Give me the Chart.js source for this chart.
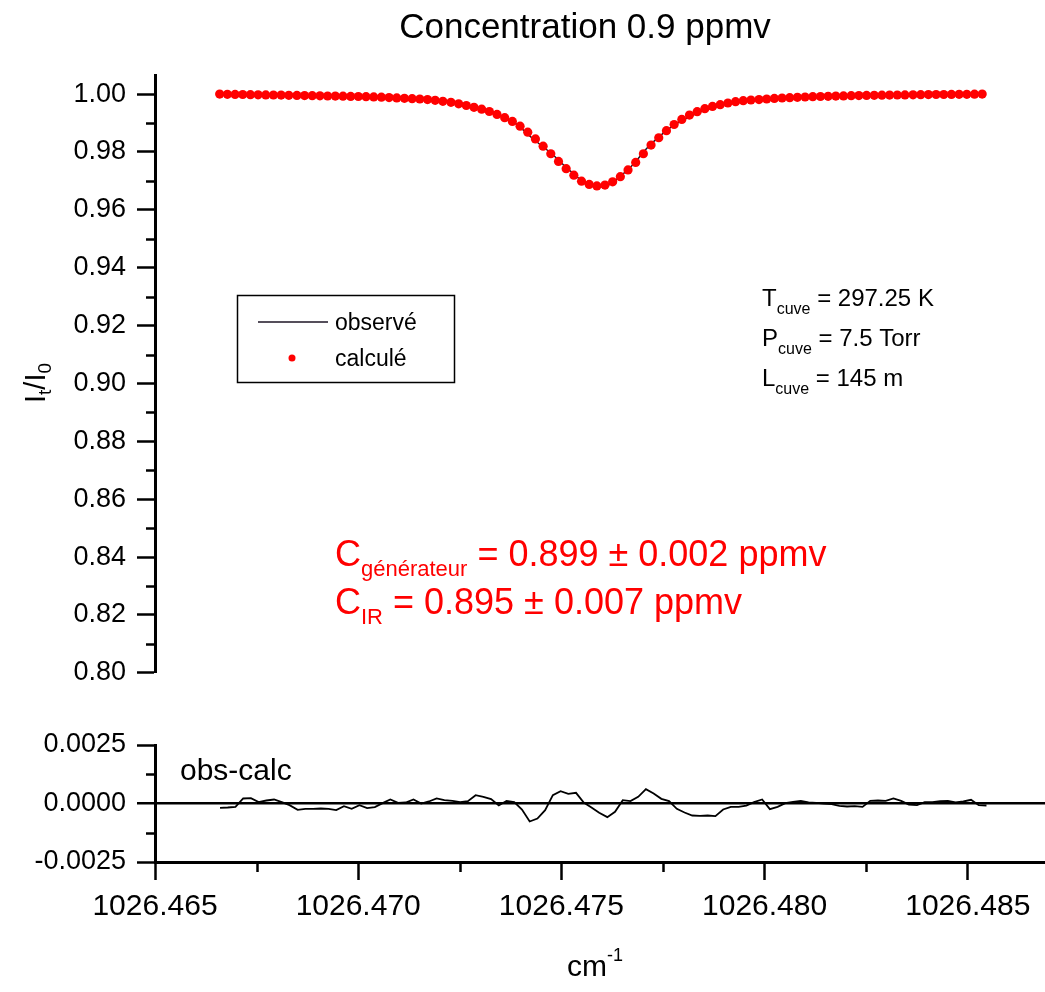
<!DOCTYPE html>
<html>
<head>
<meta charset="utf-8">
<title>Concentration 0.9 ppmv</title>
<script src="https://cdn.jsdelivr.net/npm/chart.js@4/dist/chart.umd.min.js"></script>
<style>
  html, body { margin: 0; padding: 0; background: #fff; }
  #wrap { position: relative; width: 1045px; height: 992px; overflow: hidden; }
  canvas { position: absolute; left: 0; }
  #topChart { top: 0; }
  #resChart { top: 700px; }
</style>
</head>
<body>
<div id="wrap">
  <canvas id="topChart" width="1045" height="700"></canvas>
  <canvas id="resChart" width="1045" height="292"></canvas>
</div>
<script>
// Wavenumber grid of the recorded line (cm-1)
const wavenumber = [
  1026.46660,1026.46679,1026.46698,1026.46717,1026.46736,1026.46755,1026.46774,1026.46793,1026.46812,1026.46831,
  1026.46851,1026.46870,1026.46889,1026.46908,1026.46927,1026.46946,1026.46965,1026.46984,1026.47003,1026.47022,
  1026.47041,1026.47060,1026.47079,1026.47098,1026.47117,1026.47136,1026.47155,1026.47174,1026.47193,1026.47212,
  1026.47232,1026.47251,1026.47270,1026.47289,1026.47308,1026.47327,1026.47346,1026.47365,1026.47384,1026.47403,
  1026.47422,1026.47441,1026.47460,1026.47479,1026.47498,1026.47517,1026.47536,1026.47555,1026.47574,1026.47593,
  1026.47613,1026.47632,1026.47651,1026.47670,1026.47689,1026.47708,1026.47727,1026.47746,1026.47765,1026.47784,
  1026.47803,1026.47822,1026.47841,1026.47860,1026.47879,1026.47898,1026.47917,1026.47936,1026.47955,1026.47974,
  1026.47994,1026.48013,1026.48032,1026.48051,1026.48070,1026.48089,1026.48108,1026.48127,1026.48146,1026.48165,
  1026.48184,1026.48203,1026.48222,1026.48241,1026.48260,1026.48279,1026.48298,1026.48317,1026.48336,1026.48355,
  1026.48375,1026.48394,1026.48413,1026.48432,1026.48451,1026.48470,1026.48489,1026.48508,1026.48527,1026.48546
];

// Calculated transmission It/I0
const calculated = [
  1.00000,0.99993,0.99990,0.99986,0.99979,0.99976,0.99972,0.99969,0.99965,0.99959,
  0.99955,0.99948,0.99945,0.99941,0.99934,0.99931,0.99927,0.99921,0.99917,0.99910,
  0.99903,0.99893,0.99879,0.99869,0.99855,0.99841,0.99831,0.99810,0.99786,0.99751,
  0.99717,0.99665,0.99606,0.99544,0.99478,0.99399,0.99299,0.99185,0.99057,0.98891,
  0.98684,0.98452,0.98200,0.97938,0.97672,0.97423,0.97199,0.96991,0.96877,0.96826,
  0.96857,0.96967,0.97147,0.97378,0.97637,0.97938,0.98238,0.98491,0.98736,0.98950,
  0.99126,0.99275,0.99392,0.99496,0.99575,0.99634,0.99693,0.99737,0.99772,0.99796,
  0.99810,0.99831,0.99851,0.99865,0.99876,0.99889,0.99900,0.99910,0.99917,0.99924,
  0.99931,0.99938,0.99945,0.99948,0.99955,0.99959,0.99962,0.99965,0.99969,0.99972,
  0.99976,0.99979,0.99983,0.99986,0.99986,0.99990,0.99993,0.99993,0.99997,1.00000
];

// Residual obs - calc
const residual = [
  -0.000185,-0.000171,-0.000143, 0.000214, 0.000228, 0.000057, 0.000128, 0.000171, 0.000057,-0.000071,
  -0.000271,-0.000228,-0.000228,-0.000214,-0.000228,-0.000285,-0.000114,-0.000228,-0.000071,-0.000200,
  -0.000157, 0.000014, 0.000171, 0.000029, 0.000043, 0.000171, 0.000000, 0.000086, 0.000214, 0.000143,
   0.000114, 0.000057, 0.000100, 0.000356, 0.000285, 0.000185,-0.000086, 0.000114, 0.000057,-0.000257,
  -0.000770,-0.000641,-0.000285, 0.000356, 0.000527, 0.000413, 0.000456, 0.000043,-0.000171,-0.000399,
  -0.000584,-0.000356, 0.000143, 0.000100, 0.000285, 0.000613, 0.000428, 0.000200, 0.000100,-0.000228,
  -0.000385,-0.000513,-0.000527,-0.000513,-0.000542,-0.000257,-0.000143,-0.000143,-0.000086, 0.000057,
   0.000171,-0.000242,-0.000143, 0.000014, 0.000071, 0.000114, 0.000043, 0.000029, 0.000000,-0.000029,
  -0.000100,-0.000128,-0.000114,-0.000143, 0.000114, 0.000128, 0.000114, 0.000214, 0.000114,-0.000043,
  -0.000071, 0.000057, 0.000057, 0.000100, 0.000114, 0.000043, 0.000086, 0.000157,-0.000071,-0.000086
];

// Observed spectrum = calculated + residual
const observed = calculated.map((c, i) => c + residual[i]);

// Axis ticks
const xTicks = [1026.465, 1026.470, 1026.475, 1026.480, 1026.485];
const xMinorTicks = [1026.4675, 1026.4725, 1026.4775, 1026.4825];
const yTicks = [0.80, 0.82, 0.84, 0.86, 0.88, 0.90, 0.92, 0.94, 0.96, 0.98, 1.00];
const yMinorTicks = [0.81, 0.83, 0.85, 0.87, 0.89, 0.91, 0.93, 0.95, 0.97, 0.99];
const resTicks = [-0.0025, 0.0, 0.0025];
const resMinorTicks = [-0.00125, 0.00125];

const X_MIN = 1026.465, X_MAX = 1026.4869;
const Y_MIN = 0.80, Y_MAX = 1.0066;
const R_MIN = -0.0025, R_MAX = 0.0025;

const FONT = '"Liberation Sans", Arial, Helvetica, sans-serif';
Chart.defaults.font.family = FONT;
Chart.defaults.color = '#000';

const RED = '#ff0000';
const INK = '#000000';

// Draw a run of text pieces (normal / subscript / superscript) left to right
function richText(ctx, x, y, pieces, color, align) {
  ctx.save();
  ctx.fillStyle = color;
  ctx.textBaseline = 'alphabetic';
  ctx.textAlign = 'left';
  let total = 0;
  pieces.forEach(p => { ctx.font = p.size + 'px ' + FONT; total += ctx.measureText(p.t).width; });
  let cx = align === 'center' ? x - total / 2 : x;
  pieces.forEach(p => {
    ctx.font = p.size + 'px ' + FONT;
    ctx.fillText(p.t, cx, y + (p.dy || 0));
    cx += ctx.measureText(p.t).width;
  });
  ctx.restore();
}

function minorTicksY(ctx, scale, values, len) {
  ctx.save();
  ctx.strokeStyle = INK; ctx.lineWidth = 2.5;
  values.forEach(v => {
    const py = Math.round(scale.getPixelForValue(v)) + 0.5;
    ctx.beginPath(); ctx.moveTo(scale.right - len, py); ctx.lineTo(scale.right, py); ctx.stroke();
  });
  ctx.restore();
}

const topDecor = {
  id: 'topDecor',
  afterDraw(chart) {
    const { ctx, scales: { y } } = chart;
    minorTicksY(ctx, y, yMinorTicks, 9);

    // chart title
    richText(ctx, 585, 38, [{ t: 'Concentration 0.9 ppmv', size: 35 }], INK, 'center');

    // y axis title It/I0, rotated
    ctx.save();
    ctx.translate(45, 383);
    ctx.rotate(-Math.PI / 2);
    richText(ctx, 0, 0, [
      { t: 'I', size: 29 }, { t: 't', size: 19, dy: 6 },
      { t: '/I', size: 29 }, { t: '0', size: 19, dy: 6 }
    ], INK, 'center');
    ctx.restore();

    // legend
    const obs = chart.data.datasets[1], calc = chart.data.datasets[0];
    ctx.save();
    ctx.strokeStyle = INK; ctx.lineWidth = 1.5;
    ctx.strokeRect(237.5, 295.5, 217, 87);
    ctx.strokeStyle = obs.borderColor; ctx.lineWidth = obs.borderWidth;
    ctx.beginPath(); ctx.moveTo(258, 322); ctx.lineTo(328, 322); ctx.stroke();
    ctx.fillStyle = calc.pointBackgroundColor;
    ctx.beginPath(); ctx.arc(292, 358, 3.5, 0, Math.PI * 2); ctx.fill();
    ctx.restore();
    richText(ctx, 335, 330, [{ t: obs.label, size: 23 }], INK);
    richText(ctx, 335, 366, [{ t: calc.label, size: 23 }], INK);

    // cell conditions
    const cond = [['T', '= 297.25 K', 306], ['P', '= 7.5 Torr', 346], ['L', '= 145 m', 386]];
    cond.forEach(c => richText(ctx, 762, c[2], [
      { t: c[0], size: 24 }, { t: 'cuve', size: 16, dy: 8 }, { t: ' ' + c[1], size: 24 }
    ], INK));

    // concentrations
    richText(ctx, 335, 566, [
      { t: 'C', size: 36 }, { t: 'générateur', size: 22, dy: 10 }, { t: ' = 0.899 ± 0.002 ppmv', size: 36 }
    ], RED);
    richText(ctx, 335, 614, [
      { t: 'C', size: 36 }, { t: 'IR', size: 22, dy: 10 }, { t: ' = 0.895 ± 0.007 ppmv', size: 36 }
    ], RED);
  }
};

const resDecor = {
  id: 'resDecor',
  afterDraw(chart) {
    const { ctx, scales: { x, y } } = chart;
    minorTicksY(ctx, y, resMinorTicks, 9);
    ctx.save();
    ctx.strokeStyle = INK; ctx.lineWidth = 2.5;
    xMinorTicks.forEach(v => {
      const px = Math.round(x.getPixelForValue(v)) + 0.5;
      ctx.beginPath(); ctx.moveTo(px, x.top); ctx.lineTo(px, x.top + 10); ctx.stroke();
    });
    ctx.restore();
    richText(ctx, 180, 80, [{ t: 'obs-calc', size: 30 }], INK);
    richText(ctx, 595, 276, [{ t: 'cm', size: 30 }, { t: '-1', size: 18, dy: -15 }], INK, 'center');
  }
};

new Chart(document.getElementById('topChart'), {
  type: 'scatter',
  data: {
    datasets: [
      {
        label: 'calculé',
        data: wavenumber.map((w, i) => ({ x: w, y: calculated[i] })),
        showLine: false,
        pointRadius: 4.6,
        pointHoverRadius: 4.6,
        pointBackgroundColor: RED,
        pointBorderWidth: 0,
        borderColor: RED
      },
      {
        label: 'observé',
        data: wavenumber.map((w, i) => ({ x: w, y: observed[i] })),
        showLine: true,
        borderColor: '#1c1424',
        borderWidth: 1.5,
        pointRadius: 0,
        pointHoverRadius: 0,
        fill: false,
        tension: 0
      }
    ]
  },
  options: {
    responsive: false,
    animation: false,
    devicePixelRatio: 1,
    events: [],
    layout: { padding: { top: 75, bottom: 27, left: 0, right: 0 } },
    plugins: { legend: { display: false }, tooltip: { enabled: false }, title: { display: false } },
    scales: {
      x: { type: 'linear', display: false, min: X_MIN, max: X_MAX },
      y: {
        type: 'linear', min: Y_MIN, max: Y_MAX,
        afterFit(s) { s.width = 155; },
        afterBuildTicks(s) { s.ticks = yTicks.map(v => ({ value: v })); },
        ticks: { font: { size: 27 }, color: INK, padding: 11, callback: v => Number(v).toFixed(2) },
        grid: { drawOnChartArea: false, drawTicks: true, tickLength: 18, tickWidth: 2.5, tickColor: INK },
        border: { display: true, color: INK, width: 3 }
      }
    }
  },
  plugins: [topDecor]
});

new Chart(document.getElementById('resChart'), {
  type: 'scatter',
  data: {
    datasets: [
      {
        label: 'obs-calc',
        data: wavenumber.map((w, i) => ({ x: w, y: residual[i] })),
        showLine: true,
        borderColor: INK,
        borderWidth: 1.8,
        pointRadius: 0,
        pointHoverRadius: 0,
        fill: false,
        tension: 0
      }
    ]
  },
  options: {
    responsive: false,
    animation: false,
    devicePixelRatio: 1,
    events: [],
    layout: { padding: { top: 45, bottom: 0, left: 0, right: 0 } },
    plugins: { legend: { display: false }, tooltip: { enabled: false } },
    scales: {
      x: {
        type: 'linear', min: X_MIN, max: X_MAX,
        afterFit(s) { s.height = 130; },
        afterBuildTicks(s) { s.ticks = xTicks.map(v => ({ value: v })); },
        ticks: { font: { size: 30 }, color: INK, padding: 9, maxRotation: 0, autoSkip: false, callback: v => Number(v).toFixed(3) },
        grid: { drawOnChartArea: false, drawTicks: true, tickLength: 18, tickWidth: 2.5, tickColor: INK },
        border: { display: true, color: INK, width: 3 }
      },
      y: {
        type: 'linear', min: R_MIN, max: R_MAX,
        afterFit(s) { s.width = 155; },
        afterBuildTicks(s) { s.ticks = resTicks.map(v => ({ value: v })); },
        ticks: { font: { size: 27 }, color: INK, padding: 11, callback: v => Number(v).toFixed(4) },
        grid: {
          drawOnChartArea: true, drawTicks: true, tickLength: 18, tickWidth: 2.5, tickColor: INK,
          color: c => (c.tick && c.tick.value === 0) ? INK : 'rgba(0,0,0,0)',
          lineWidth: c => (c.tick && c.tick.value === 0) ? 2.5 : 1
        },
        border: { display: true, color: INK, width: 3 }
      }
    }
  },
  plugins: [resDecor]
});
</script>
</body>
</html>
